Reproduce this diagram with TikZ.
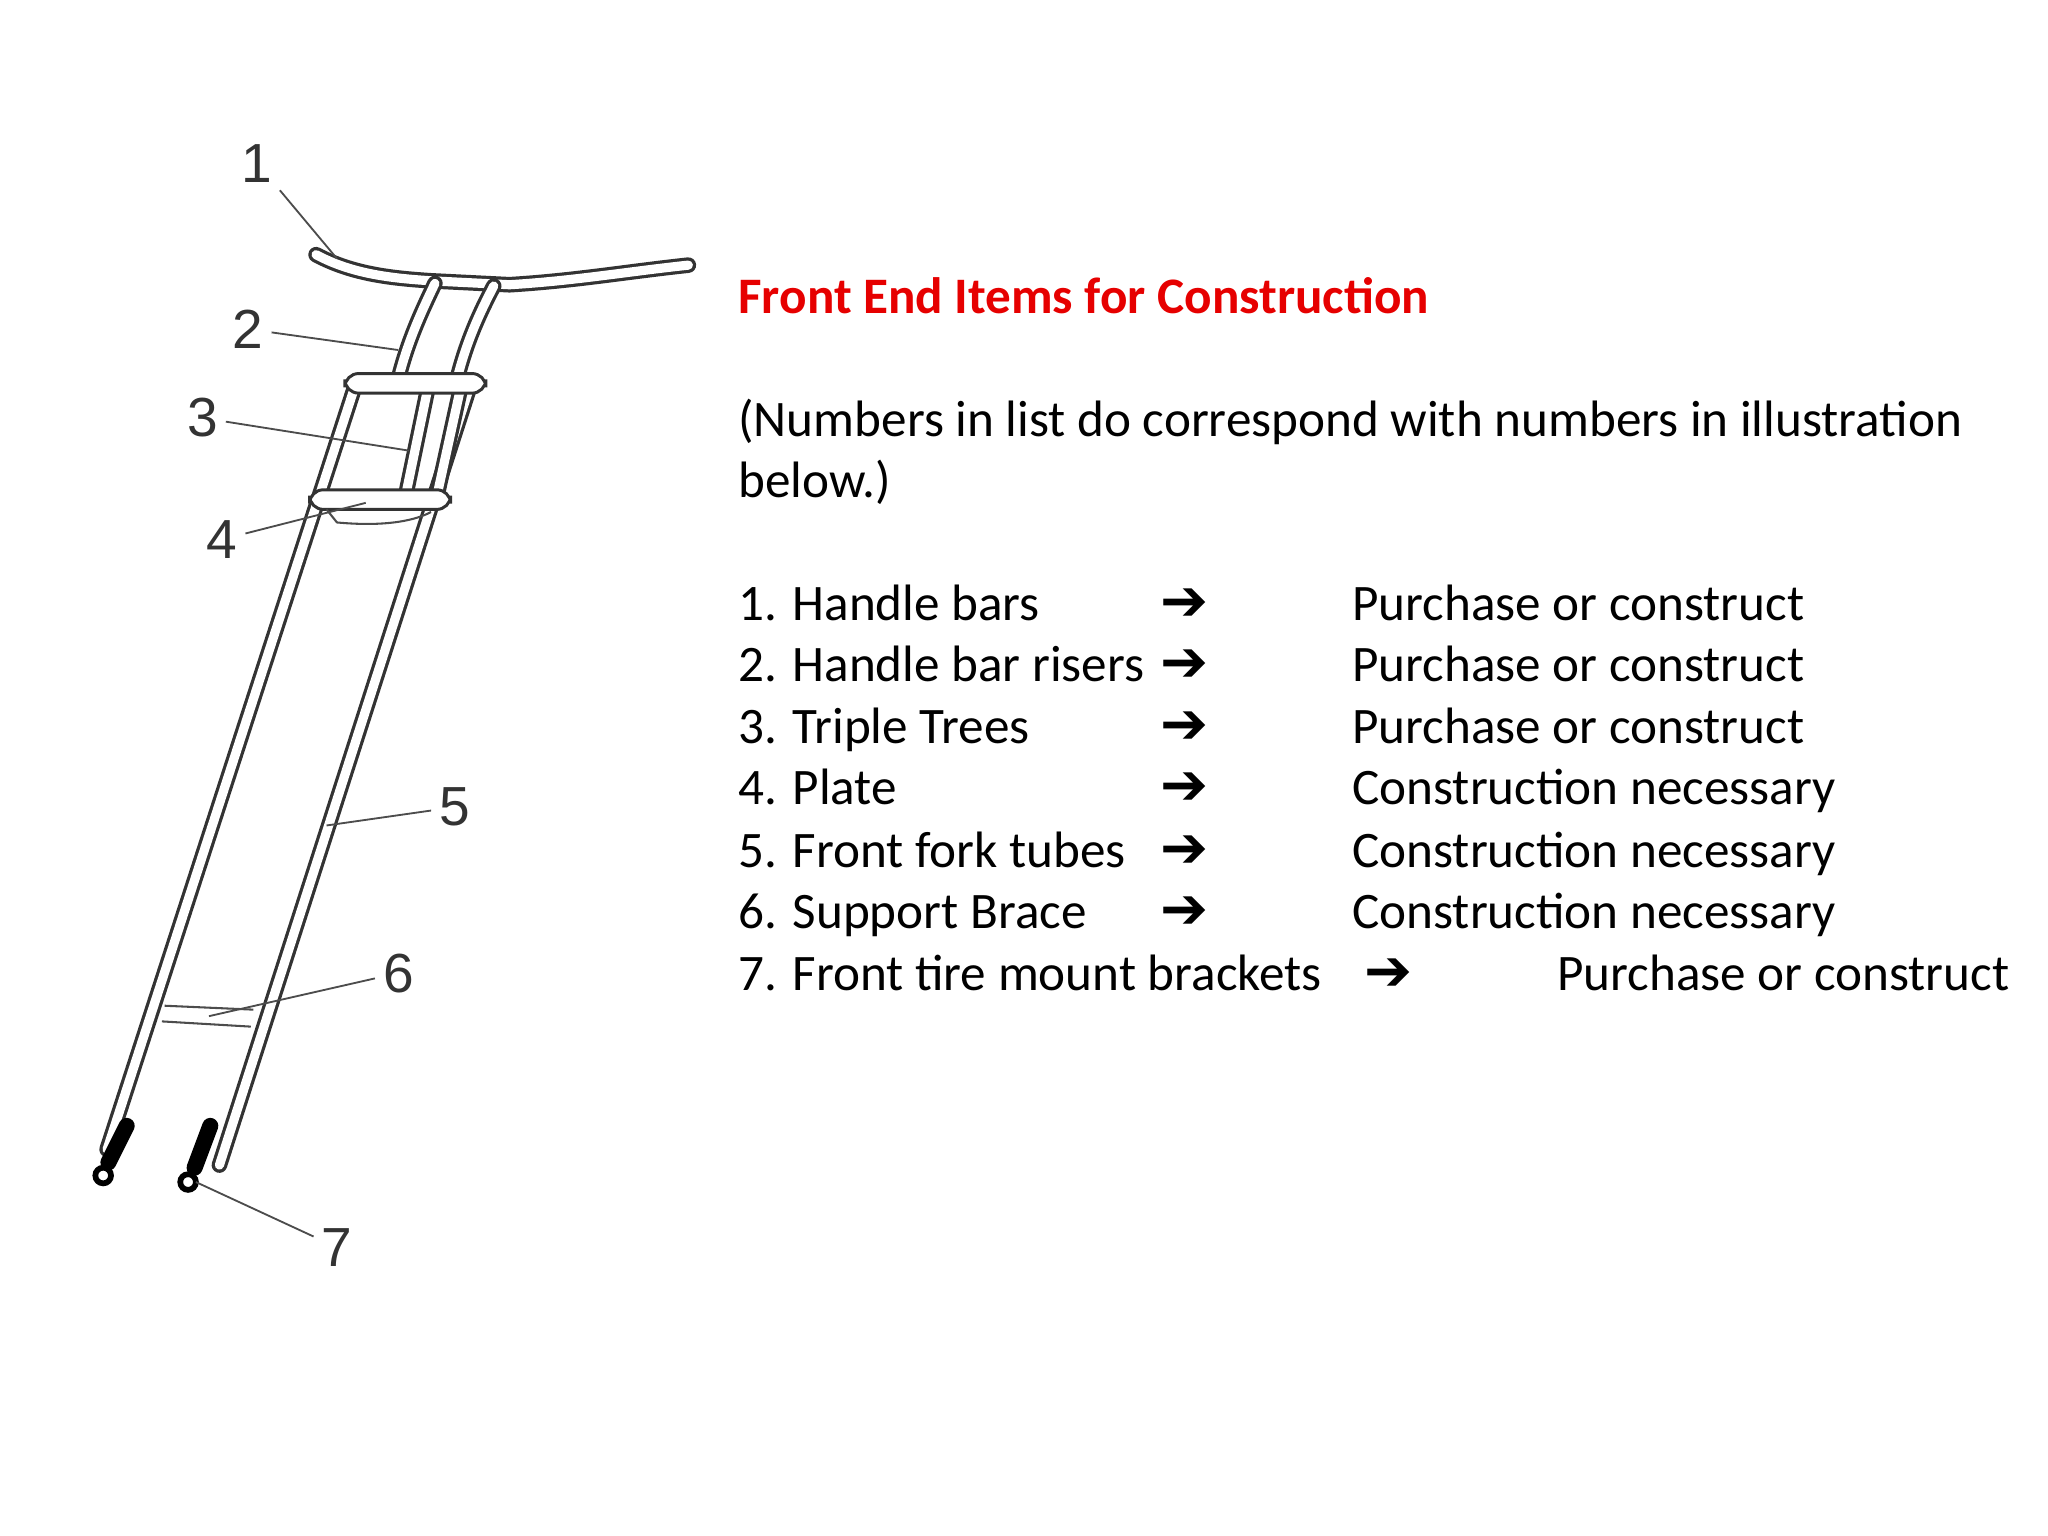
\documentclass[tikz,border=0pt]{standalone}
\usepackage{fontspec}
\setmainfont{Carlito}
\newfontfamily\symf{DejaVu Sans}
\newfontfamily\numf{Liberation Sans}
\definecolor{tred}{RGB}{230,0,0}
\begin{document}
\begin{tikzpicture}[x=0.02cm,y=-0.02cm,
  tube/.style={draw=black!80,line width=1.4pt,double=white,double distance=4pt,line cap=round},
  lead/.style={draw=black!70,line width=0.8pt},
  num/.style={font=\fontsize{24}{28}\selectfont\numf,text=black!80},
  txt/.style={anchor=base west,font=\fontsize{22.3}{26}\selectfont,inner sep=0pt},
  arr/.style={anchor=base,font=\fontsize{25}{28}\selectfont\symf\bfseries,inner sep=0pt}]
\useasboundingbox (0,0) rectangle (1568,1176);
% handlebar
\draw[tube] (242,195) .. controls (270,210) and (300,213) .. (330,215) -- (390,218) .. controls (440,215) and (480,208) .. (527,203);
% risers
\draw[tube] (333,217) .. controls (322,240) and (312,262) .. (305,290);
\draw[tube] (378,219) .. controls (367,240) and (357,262) .. (350,290);
% fork tubes
\draw[tube] (272,295) -- (82,880);
\draw[tube] (360,295) -- (168,892);
% inner stanchions
\draw[tube] (327,300) -- (310,382);
\draw[tube] (352,300) -- (334,382);
% triple trees
\draw[draw=black!80,line width=1.3pt,fill=white,rounded corners=6pt] (264,286) rectangle (372,301);
\draw[draw=black!80,line width=1.3pt,fill=white,rounded corners=6pt] (237,375) rectangle (345,390);
% plate
\draw[draw=black!70,line width=0.9pt] (250,390) -- (258,400) .. controls (290,403) and (315,400) .. (330,392);
% support brace
\draw[draw=black!70,line width=0.9pt] (126,770) -- (194,773) (124,782) -- (192,786);
% brackets
\draw[line width=7pt,line cap=round] (97,862) -- (83,890);
\draw[line width=2.5pt,fill=white] (79,900) circle (6);
\draw[line width=7pt,line cap=round] (161,862) -- (149,894);
\draw[line width=2.5pt,fill=white] (144,905) circle (6);
% labels
\node[num] (n1) at (197,125) {1};
\node[num] (n2) at (190,252) {2};
\node[num] (n3) at (155,320) {3};
\node[num] (n4) at (170,413) {4};
\node[num] (n5) at (348,618) {5};
\node[num] (n6) at (305,745) {6};
\node[num] (n7) at (258,955) {7};
\coordinate (p1) at (258,198);
\coordinate (p2) at (305,268);
\coordinate (p3) at (313,345);
\coordinate (p4) at (280,385);
\coordinate (p5) at (250,632);
\coordinate (p6) at (160,778);
\coordinate (p7) at (150,905);
\draw[lead] (n1) -- (p1);
\draw[lead] (n2) -- (p2);
\draw[lead] (n3) -- (p3);
\draw[lead] (n4) -- (p4);
\draw[lead] (n5) -- (p5);
\draw[lead] (n6) -- (p6);
\draw[lead] (n7) -- (p7);
% text
\node[txt,text=tred,font=\fontsize{22.3}{26}\selectfont\bfseries] (t) at (565,240) {Front End Items for Construction};
\node[txt] (pa) at (565,334) {(Numbers in list do correspond with numbers in illustration};
\node[txt] (pb) at (565,381) {below.)};
\foreach \y/\a/\b [count=\i] in {475/Handle bars/Purchase or construct,522/Handle bar risers/Purchase or construct,569/Triple Trees/Purchase or construct,616/Plate/Construction necessary,664/Front fork tubes/Construction necessary,711/Support Brace/Construction necessary}{
  \node[txt] (l\i) at (565,\y) {\i. \a};
  \node[arr] (a\i) at (907,\y) {➔};
  \node[txt] (r\i) at (1035,\y) {\b};
}
\node[txt] (l7) at (565,758) {7. Front tire mount brackets};
\node[arr] (a7) at (1063,758) {➔};
\node[txt] (r7) at (1192,758) {Purchase or construct};
\end{tikzpicture}
\end{document}
